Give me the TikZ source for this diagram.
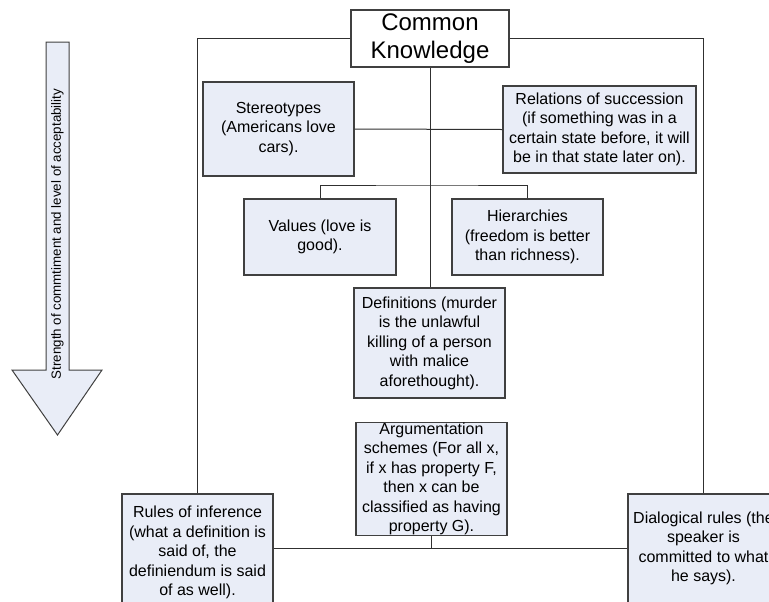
\documentclass[tikz,border=0pt]{standalone}
\usepackage{fontspec}
\setmainfont{Liberation Sans}
\definecolor{boxfill}{HTML}{E9EDF7}
\definecolor{edge}{HTML}{404040}
\definecolor{conncol}{HTML}{303030}
\begin{document}
\begin{tikzpicture}[x=0.75pt,y=-0.75pt,
  box/.style={draw=edge, fill=boxfill, line width=0.8pt, align=center, inner sep=0pt,
    minimum width=113.25pt, font=\fontsize{12}{14.6}\selectfont},
  conn/.style={draw=conncol, line width=0.75pt},
  bigarrow/.style={draw=edge, fill=boxfill, line width=0.75pt}]
\useasboundingbox (0,0) rectangle (769,601);

% nodes
\node[box, fill=white, minimum width=118.5pt, minimum height=42.75pt,
  font=\fontsize{18}{21}\selectfont] (ck) at (430,38.5) {Common\\Knowledge};
\node[box, minimum height=70.5pt] (st) at (278.5,129) {Stereotypes\\(Americans love\\cars).};
\node[box, minimum width=144.75pt, minimum height=65.25pt] (rel) at (599.5,129.5)
  {Relations of succession\\(if something was in a\\certain state before, it will\\be in that state later on).};
\node[box, minimum width=114pt, minimum height=57pt] (val) at (320,237) {Values (love is\\good).};
\node[box, minimum height=57pt] (hier) at (527.5,237) {Hierarchies\\(freedom is better\\than richness).};
\node[box, minimum height=82.5pt] (def) at (429.5,343)
  {Definitions (murder\\is the unlawful\\killing of a person\\with malice\\aforethought).};
\node[box, minimum height=82.5pt] (arg) at (431.5,479)
  {Argumentation\\schemes (For all x,\\if x has property F,\\then x can be\\classified as having\\property G).};
\node[box, minimum height=87.75pt] (rules) at (197.5,552.5)
  {Rules of inference\\(what a definition is\\said of, the\\definiendum is said\\of as well).};
\node[box, minimum height=81.75pt] (dial) at (703.5,548.5)
  {Dialogical rules (the\\speaker is\\committed to what\\he says).};

% connectors
\coordinate (vh) at (430,185);
\draw[conn] (ck.south) -- (ck.south |- def.north);
\draw[conn] (st.east) -- (rel.west);
\draw[conn] (val.north) |- (vh) -| (hier.north);
\draw[conn] (ck.west) -| (rules.north);
\draw[conn] (ck.east) -| (dial.north);
\draw[conn] (rules.east |- dial.west) -- (dial.west);
\draw[conn] (arg.south) -- (arg.south |- dial.west);

% strength arrow
\draw[bigarrow] (46,42) -- (69,42) -- (69,370) -- (102,370) -- (57.5,435) -- (12,370) -- (46,370) -- cycle;
\node[rotate=90, font=\fontsize{10}{12}\selectfont, inner sep=0pt] (strength) at (57.5,234)
  {Strength of commtiment and level of acceptability};
\end{tikzpicture}
\end{document}
